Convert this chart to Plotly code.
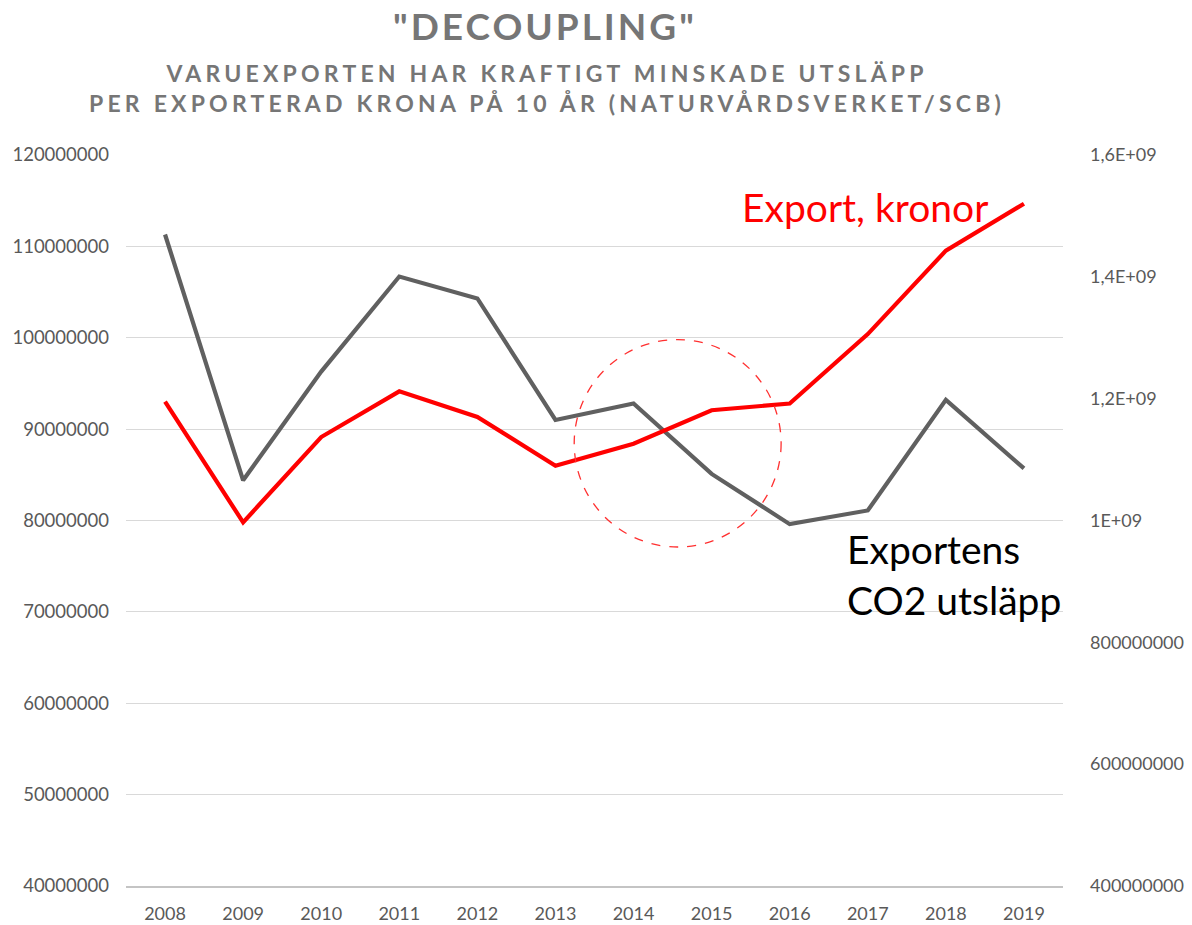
import plotly.graph_objects as go

# Years on the category axis
years = ["2008", "2009", "2010", "2011", "2012", "2013",
         "2014", "2015", "2016", "2017", "2018", "2019"]

# Export CO2 emissions (left axis)
co2_emissions = [111.3e6, 84.4e6, 96.3e6, 106.7e6, 104.3e6, 91.0e6,
                 92.8e6, 85.1e6, 79.6e6, 81.1e6, 93.2e6, 85.7e6]

# Export value in kronor (right axis)
export_kronor = [1.195e9, 0.997e9, 1.137e9, 1.212e9, 1.170e9, 1.090e9,
                 1.126e9, 1.181e9, 1.192e9, 1.306e9, 1.443e9, 1.520e9]

# Tick labels
left_ticks = [40e6, 50e6, 60e6, 70e6, 80e6, 90e6, 100e6, 110e6, 120e6]
left_labels = ["40000000", "50000000", "60000000", "70000000", "80000000",
               "90000000", "100000000", "110000000", "120000000"]
right_ticks = [400e6, 600e6, 800e6, 1000e6, 1200e6, 1400e6, 1600e6]
right_labels = ["400000000", "600000000", "800000000", "1E+09",
                "1,2E+09", "1,4E+09", "1,6E+09"]

FONT = "Lato, 'Open Sans', sans-serif"
TICK_COLOR = "#595959"
TITLE_COLOR = "#767676"

fig = go.Figure()

fig.add_trace(go.Scatter(
    x=years, y=co2_emissions, mode="lines", name="Exportens CO2 utsläpp",
    line=dict(color="#606060", width=4.2), yaxis="y",
))
fig.add_trace(go.Scatter(
    x=years, y=export_kronor, mode="lines", name="Export, kronor",
    line=dict(color="#ff0000", width=4.2), yaxis="y2",
))

# Dashed circle highlighting the crossing
fig.add_shape(
    type="circle", xref="x", yref="y",
    x0=5.24, x1=7.89, y0=77.1e6, y1=99.8e6,
    line=dict(color="#ff3030", width=1.3, dash="dash"),
)

# Pixel geometry of the plot area, used to place the free text
plot_l, plot_r, plot_t, plot_b = 126, 1192 - 129, 155, 925 - 39
pw, ph = plot_r - plot_l, plot_b - plot_t


def px_x(px):
    return (px - plot_l) / pw


def px_y(py):
    return (plot_b - py) / ph


# Titles
fig.add_annotation(
    text='<span style="letter-spacing:3px">"DECOUPLING"</span>',
    xref="paper", yref="paper", x=px_x(545), y=px_y(26),
    xanchor="center", yanchor="middle", showarrow=False,
    font=dict(family=FONT, size=37, color=TITLE_COLOR, weight="bold"),
)
fig.add_annotation(
    text='<span style="letter-spacing:4.2px">VARUEXPORTEN HAR KRAFTIGT MINSKADE UTSLÄPP</span><br>'
         '<span style="letter-spacing:4.2px">PER EXPORTERAD KRONA PÅ 10 ÅR (NATURVÅRDSVERKET/SCB)</span>',
    xref="paper", yref="paper", x=px_x(547), y=px_y(88),
    xanchor="center", yanchor="middle", showarrow=False, align="center",
    font=dict(family=FONT, size=23, color=TITLE_COLOR, weight="bold"),
)

# Series labels
fig.add_annotation(
    text="Export, kronor", xref="paper", yref="paper",
    x=px_x(865), y=px_y(207), xanchor="center", yanchor="middle",
    showarrow=False, font=dict(family=FONT, size=39, color="#ff0000"),
)
fig.add_annotation(
    text="Exportens<br>CO2 utsläpp", xref="paper", yref="paper",
    x=px_x(845), y=px_y(524), xanchor="left", yanchor="top",
    align="left", showarrow=False,
    font=dict(family=FONT, size=39, color="#000000"),
)

fig.update_layout(
    width=1192, height=925,
    margin=dict(l=126, r=129, t=155, b=39),
    paper_bgcolor="white", plot_bgcolor="white",
    showlegend=False,
    font=dict(family=FONT, size=18, color=TICK_COLOR),
    xaxis=dict(
        type="category", range=[-0.5, 11.5], automargin=False,
        showgrid=False, showline=True, linecolor="#c4c4c4", linewidth=2,
        ticks="", ticklabelstandoff=10,
        tickfont=dict(family=FONT, size=18, color=TICK_COLOR),
    ),
    yaxis=dict(
        range=[40e6, 120e6], tickvals=left_ticks, ticktext=left_labels,
        automargin=False,
        showgrid=True, gridcolor="#d9d9d9", gridwidth=1,
        zeroline=False, ticks="", ticklabelstandoff=16,
        tickfont=dict(family=FONT, size=18.5, color=TICK_COLOR),
    ),
    yaxis2=dict(
        range=[400e6, 1600e6], tickvals=right_ticks, ticktext=right_labels,
        automargin=False,
        overlaying="y", side="right", showgrid=False, zeroline=False,
        ticks="", ticklabelstandoff=26,
        tickfont=dict(family=FONT, size=18, color=TICK_COLOR),
    ),
)

fig.write_html("out.html")
